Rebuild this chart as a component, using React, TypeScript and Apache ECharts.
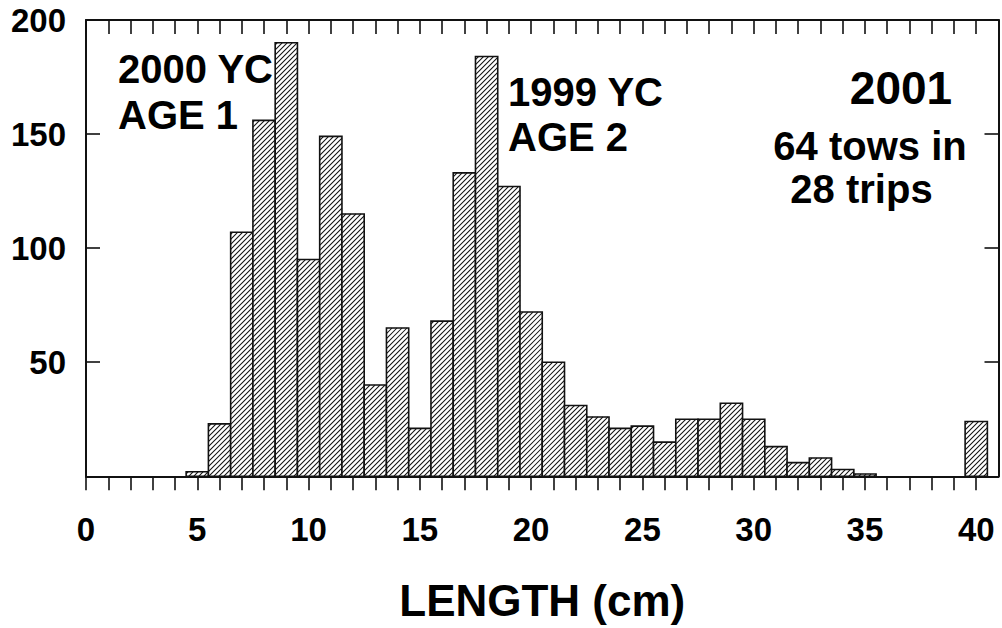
import React, { useEffect, useRef } from "react";
import * as echarts from "echarts";

// Length classes (cm) and counts
const lengths = [5, 6, 7, 8, 9, 10, 11, 12, 13, 14, 15, 16, 17, 18, 19, 20, 21, 22, 23, 24, 25, 26, 27, 28, 29, 30, 31, 32, 33, 34, 35, 36, 37, 38, 39, 40];
const counts = [2, 23, 107, 156, 190, 95, 149, 115, 40, 65, 21, 68, 133, 184, 127, 72, 50, 31, 26, 21, 22, 15, 25, 25, 32, 25, 13, 6, 8, 3, 1, 0, 0, 0, 0, 24];

const xTickValues = Array.from({ length: 41 }, (_, i) => i);
const xLabelValues = [0, 5, 10, 15, 20, 25, 30, 35, 40];
const yTicks = { min: 0, max: 200, interval: 50 };

const FONT = "'Liberation Sans', Arial, Helvetica, sans-serif";

export default function App() {
  const ref = useRef<HTMLDivElement>(null);
  useEffect(() => {
    if (!ref.current) return;
    const chart = echarts.init(ref.current, null, { renderer: "svg" });
    const data = lengths.map((l, i) => [l, counts[i]]);
    const axisLine = { show: true, onZero: false, lineStyle: { color: "#111", width: 2 } };
    const tickStyle = { color: "#111", width: 1.6 };
    const option: any = {
      animation: false,
      backgroundColor: "#fff",
      grid: { left: 86, right: 3.5, top: 20, bottom: 151.7, outerBoundsMode: "none" },
      xAxis: [
        {
          type: "value",
          position: "bottom",
          min: 0,
          max: 41,
          interval: 1,
          splitLine: { show: false },
          axisLine,
          axisTick: { show: true, inside: false, length: 14, lineStyle: tickStyle, customValues: xTickValues },
          axisLabel: {
            show: true,
            customValues: xLabelValues,
            fontFamily: FONT,
            fontWeight: "bold",
            fontSize: 33,
            color: "#000",
            margin: 37,
          },
          name: "LENGTH (cm)",
          nameLocation: "middle",
          nameGap: 124,
          nameTextStyle: {
            fontFamily: FONT,
            fontWeight: "bold",
            fontSize: 44,
            color: "#000",
            verticalAlign: "middle",
          },
        },
        {
          type: "value",
          position: "top",
          min: 0,
          max: 41,
          interval: 1,
          splitLine: { show: false },
          axisLine,
          axisTick: { show: true, inside: true, length: 14, lineStyle: tickStyle, customValues: xTickValues },
          axisLabel: { show: false },
        },
      ],
      yAxis: [
        {
          type: "value",
          position: "left",
          min: yTicks.min,
          max: yTicks.max,
          interval: yTicks.interval,
          splitLine: { show: false },
          axisLine,
          axisTick: { show: true, inside: true, length: 14, lineStyle: tickStyle },
          axisLabel: {
            fontFamily: FONT,
            fontWeight: "bold",
            fontSize: 33,
            color: "#000",
            margin: 20,
            formatter: (v: number) => (v === 0 ? "" : String(v)),
          },
        },
        {
          type: "value",
          position: "right",
          min: yTicks.min,
          max: yTicks.max,
          interval: yTicks.interval,
          splitLine: { show: false },
          axisLine,
          axisTick: { show: true, inside: true, length: 14, lineStyle: tickStyle },
          axisLabel: { show: false },
        },
      ],
      series: [
        {
          type: "custom",
          xAxisIndex: 0,
          yAxisIndex: 0,
          data,
          renderItem: (params: any, api: any) => {
            const x = api.value(0);
            const y = api.value(1);
            if (!y) return null;
            const p0 = api.coord([x - 0.5, y]);
            const p1 = api.coord([x + 0.5, 0]);
            const x0 = p0[0], y0 = p0[1], x1 = p1[0], y1 = p1[1];
            const step = 5;
            const children: any[] = [
              { type: "rect", shape: { x: x0, y: y0, width: x1 - x0, height: y1 - y0 }, style: { fill: "#fff" } },
            ];
            const kStart = Math.ceil((x0 + y0) / step);
            const kEnd = Math.floor((x1 + y1) / step);
            for (let k = kStart; k <= kEnd; k++) {
              const c = k * step;
              const xa = Math.max(x0, c - y1);
              const xb = Math.min(x1, c - y0);
              if (xb - xa < 0.3) continue;
              children.push({
                type: "line",
                shape: { x1: xa, y1: c - xa, x2: xb, y2: c - xb },
                style: { stroke: "#111", lineWidth: 1.05 },
              });
            }
            children.push({
              type: "rect",
              shape: { x: x0, y: y0, width: x1 - x0, height: y1 - y0 },
              style: { fill: "none", stroke: "#111", lineWidth: 1.6 },
            });
            return { type: "group", children };
          },
        },
      ],
      graphic: [
        { type: "text", x: 118, y: 69, style: { text: "2000 YC", font: `bold 40px ${FONT}`, fill: "#000", textAlign: "left", textVerticalAlign: "middle" } },
        { type: "text", x: 118, y: 115, style: { text: "AGE 1", font: `bold 40px ${FONT}`, fill: "#000", textAlign: "left", textVerticalAlign: "middle" } },
        { type: "text", x: 508, y: 92, style: { text: "1999 YC", font: `bold 40px ${FONT}`, fill: "#000", textAlign: "left", textVerticalAlign: "middle" } },
        { type: "text", x: 508, y: 137, style: { text: "AGE 2", font: `bold 40px ${FONT}`, fill: "#000", textAlign: "left", textVerticalAlign: "middle" } },
        { type: "text", x: 901, y: 88, style: { text: "2001", font: `bold 46px ${FONT}`, fill: "#000", textAlign: "center", textVerticalAlign: "middle" } },
        { type: "text", x: 870, y: 146, style: { text: "64 tows in", font: `bold 40px ${FONT}`, fill: "#000", textAlign: "center", textVerticalAlign: "middle" } },
        { type: "text", x: 861.5, y: 189, style: { text: "28 trips", font: `bold 40px ${FONT}`, fill: "#000", textAlign: "center", textVerticalAlign: "middle" } },
      ],
    };
    chart.setOption(option);
    return () => chart.dispose();
  }, []);
  return <div ref={ref} style={{ position: "fixed", left: 0, top: 0, width: 1002, height: 628 }} />;
}
